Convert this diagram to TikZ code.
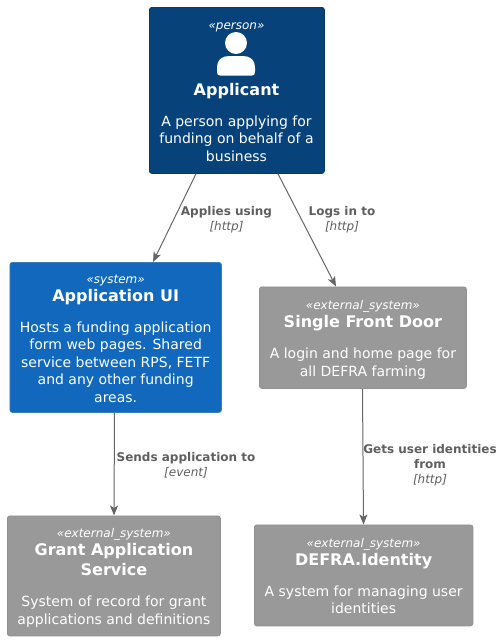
\documentclass[tikz,border=0pt]{standalone}
\usepackage{fontspec}
\setmainfont{DejaVu Sans}
\usetikzlibrary{arrows.meta,calc}
\definecolor{persc}{HTML}{08427B}
\definecolor{persb}{HTML}{073B6F}
\definecolor{sysc}{HTML}{1168BD}
\definecolor{sysb}{HTML}{3C7FC0}
\definecolor{extc}{HTML}{999999}
\definecolor{extb}{HTML}{919191}
\definecolor{edgec}{HTML}{666666}
\definecolor{labc}{HTML}{5F5F5F}
\newcommand{\stereo}[1]{{\fontsize{12}{14}\selectfont\itshape\rule[-3pt]{0pt}{17pt}«#1»}}
\newcommand{\ttl}[1]{{\fontsize{16}{19}\selectfont\bfseries\rule[-5pt]{0pt}{19pt}#1}}
\newcommand{\dsc}[1]{{\fontsize{14}{16.3}\selectfont\rule[-3.5pt]{0pt}{16.5pt}#1}}
\newcommand{\lbf}[1]{{\fontsize{12}{14}\selectfont\bfseries\rule[-3.5pt]{0pt}{14pt}#1}}
\newcommand{\lit}[1]{{\fontsize{12}{14}\selectfont\itshape\rule[-3.5pt]{0pt}{14pt}#1}}
\tikzset{
  x=1pt,y=-1pt,
  c4box/.style={draw,line width=.8pt,rounded corners=2.5pt,text=white,align=center,inner sep=0pt,anchor=north west},
  person/.style={c4box,fill=persc,draw=persb},
  sys/.style={c4box,fill=sysc,draw=sysb},
  ext/.style={c4box,fill=extc,draw=extb},
  rel/.style={draw=edgec,line width=1pt,-{Stealth[length=10pt,width=8pt,inset=2.5pt,fill=edgec]}},
  rellab/.style={text=labc,align=center,inner sep=0pt},
}
\begin{document}
\begin{tikzpicture}
\useasboundingbox (0,0) rectangle (503,640);
\node[person,minimum width=175pt,minimum height=166pt] (appl) at (149,7) {};
\node[text=white,align=center,inner sep=0pt,anchor=north] (applt) at (236.5,15) {\stereo{person}\\[48pt]\ttl{Applicant}\\[12pt]\dsc{A person applying for}\\\dsc{funding on behalf of a}\\\dsc{business}};
\fill[white] (236,43) circle (11);
\fill[white] (217,72) -- (217,67) .. controls (217,60) and (222,56) .. (229,56) -- (243,56) .. controls (250,56) and (255,60) .. (255,67) -- (255,72) .. controls (255,74.5) and (254,75.5) .. (252,75.5) -- (220,75.5) .. controls (218,75.5) and (217,74.5) .. (217,72) -- cycle;
\node[sys,minimum width=211.5pt,minimum height=150pt] (ui) at (9.5,262) {\stereo{system}\\\ttl{Application UI}\\[12pt]\dsc{Hosts a funding application}\\\dsc{form web pages. Shared}\\\dsc{service between RPS, FETF}\\\dsc{and any other funding}\\\dsc{areas.}};
\node[ext,minimum width=207pt,minimum height=101.5pt] (sfd) at (259,286.5) {\stereo{external\_system}\\\ttl{Single Front Door}\\[12pt]\dsc{A login and home page for}\\\dsc{all DEFRA farming}};
\node[ext,minimum width=213pt,minimum height=120pt] (gas) at (7,515.5) {\stereo{external\_system}\\\ttl{Grant Application}\\\ttl{Service}\\[12pt]\dsc{System of record for grant}\\\dsc{applications and definitions}};
\node[ext,minimum width=218.5pt,minimum height=101pt] (idn) at (254,524.5) {\stereo{external\_system}\\\ttl{DEFRA.Identity}\\[12pt]\dsc{A system for managing user}\\\dsc{identities}};
\draw[rel] ($(appl.south west)+(47,0)$) -- ($(ui.north west)+(143.5,0)$);
\draw[rel] ($(appl.south west)+(129,0)$) -- ($(sfd.north west)+(77,0)$);
\draw[rel] ($(ui.south west)+(105,0)$) -- ($(gas.north west)+(107,0)$);
\draw[rel] ($(sfd.south west)+(103.5,0)$) -- ($(idn.north west)+(109.5,0)$);
\node[rellab] (l1) at (226.5,219) {\lbf{Applies using}\\\lit{[http]}};
\node[rellab] (l2) at (342,219) {\lbf{Logs in to}\\\lit{[http]}};
\node[rellab] (l3) at (186,465) {\lbf{Sends application to}\\\lit{[event]}};
\node[rellab] (l4) at (430,465) {\lbf{Gets user identities}\\\lbf{from}\\\lit{[http]}};
\end{tikzpicture}
\end{document}
